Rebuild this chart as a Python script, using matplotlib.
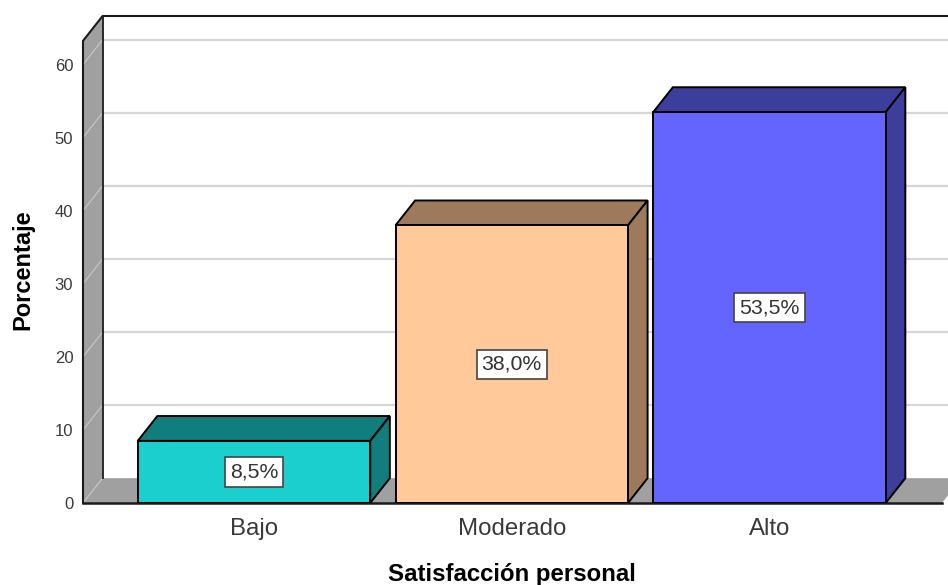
import matplotlib
matplotlib.use('Agg')
import matplotlib.pyplot as plt
from matplotlib.patches import Polygon

plt.rcParams['font.family'] = ['Liberation Sans', 'DejaVu Sans']

# datos
categorias = ['Bajo', 'Moderado', 'Alto']
porcentajes = [8.5, 38.0, 53.5]
ticks_y = [0, 10, 20, 30, 40, 50, 60]

# colores de cada barra
color_frente = ['#1CCFCF', '#FFC999', '#6464FF']
color_oscuro = ['#127D7D', '#9E7A5C', '#3D3D9C']
color_pared = '#A0A0A0'
color_rejilla = '#D6D6D6'

# efecto 3D y limites, en unidades de los ejes
ancho = 0.902
dx = 0.076
dy = 3.4
x_izq = -0.6634
x_der = 2.6925
x_suelo = 2.669
y_tope = 63.25

fig = plt.figure(figsize=(9.48, 5.85), dpi=100)
ax = fig.add_axes([83 / 948, 82 / 585, 865 / 948, 487 / 585])
ax.set_xlim(x_izq, x_der)
ax.set_ylim(0, y_tope + dy)
for s in ax.spines.values():
    s.set_visible(False)

# rejilla de la pared del fondo
for v in ticks_y[1:]:
    ax.plot([x_izq + dx, x_der], [v + dy, v + dy], color=color_rejilla, lw=1.6, zorder=1)

# pared izquierda y suelo
ax.add_patch(Polygon([(x_izq, 0), (x_izq + dx, dy), (x_izq + dx, y_tope + dy), (x_izq, y_tope)],
                     facecolor=color_pared, edgecolor='none', zorder=2))
ax.add_patch(Polygon([(x_izq, 0), (x_izq + dx, dy), (x_suelo + dx, dy), (x_suelo, 0)],
                     facecolor=color_pared, edgecolor='none', zorder=2))
for v in ticks_y:
    ax.plot([x_izq, x_izq + dx], [v, v + dy], color='#C4C4C4', lw=0.9, zorder=3)

# bordes del marco
negro = '#1A1A1A'
ax.plot([x_izq, x_izq, x_izq + dx, x_der], [0, y_tope, y_tope + dy, y_tope + dy],
        color=negro, lw=1.5, zorder=4, clip_on=False)
ax.plot([x_izq + dx, x_izq + dx], [dy, y_tope + dy], color=negro, lw=1.3, zorder=4)
ax.plot([x_izq, x_suelo], [0, 0], color=negro, lw=1.8, zorder=4, clip_on=False)

# barras
for i, v in enumerate(porcentajes):
    iz = i - ancho / 2
    de = i + ancho / 2
    ax.bar(i, v, width=ancho, color=color_frente[i], edgecolor='black', lw=1.4, zorder=6)
    ax.add_patch(Polygon([(iz, v), (iz + dx, v + dy), (de + dx, v + dy), (de, v)],
                         facecolor=color_oscuro[i], edgecolor='black', lw=1.4, zorder=5))
    ax.add_patch(Polygon([(de, 0), (de + dx, dy), (de + dx, v + dy), (de, v)],
                         facecolor=color_oscuro[i], edgecolor='black', lw=1.4, zorder=5))
    ax.text(i, v / 2, f'{v:.1f}%'.replace('.', ','), ha='center', va='center', fontsize=15.3,
            color='#333333', zorder=7,
            bbox=dict(boxstyle='square,pad=0.24', facecolor='white', edgecolor='#444444', lw=1.2))

ax.set_xticks(range(len(categorias)))
ax.set_xticklabels(categorias, fontsize=17.3, color='#3A3A3A')
ax.set_yticks(ticks_y)
ax.set_yticklabels(ticks_y, fontsize=12, color='#3A3A3A')
ax.tick_params(axis='both', length=0)
ax.tick_params(axis='x', pad=10.5)
ax.tick_params(axis='y', pad=7)
ax.set_xlabel('Satisfacción personal', fontsize=17.3, fontweight='bold')
ax.xaxis.set_label_coords((512 - 83) / 865, -(575 - 503) / 487, transform=ax.transAxes)
ax.xaxis.label.set_va('center')
ax.set_ylabel('Porcentaje', fontsize=17, fontweight='bold')
ax.yaxis.set_label_coords((23 - 83) / 865, (503 - 270) / 487, transform=ax.transAxes)
ax.yaxis.label.set_va('center')

plt.savefig('out.png', dpi=100)
